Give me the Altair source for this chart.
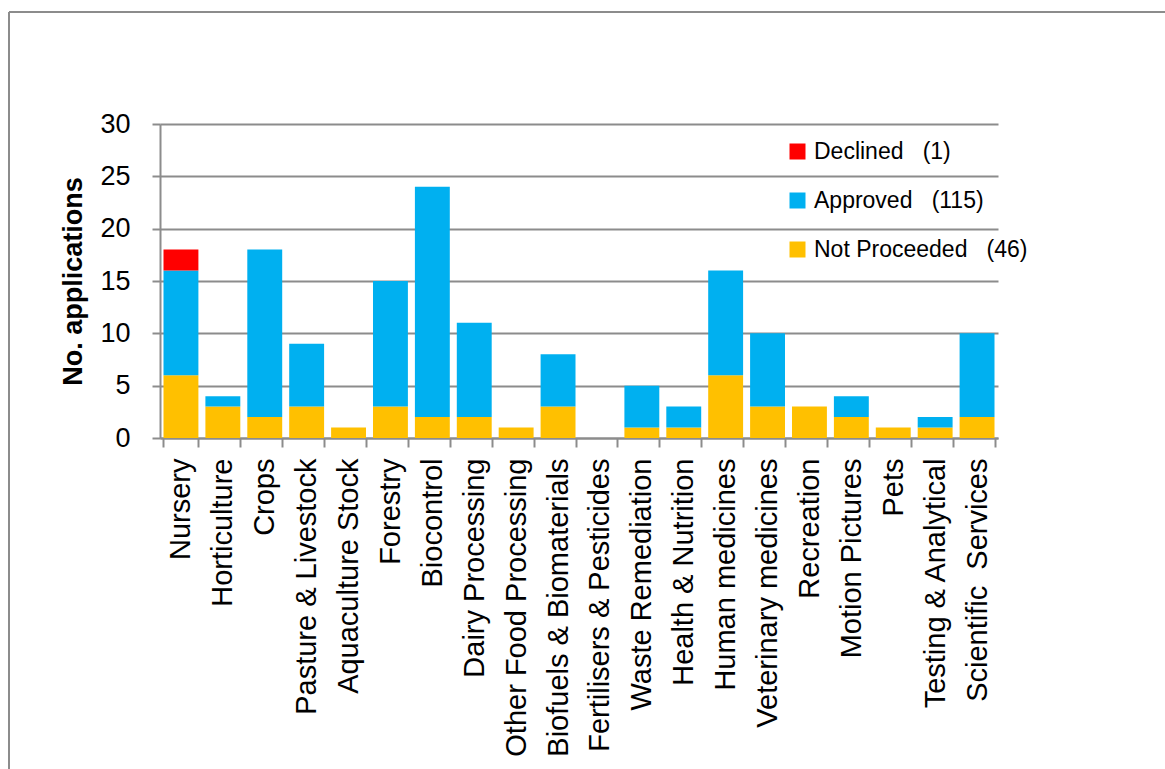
import altair as alt
import pandas as pd

# Application counts per sector, stacked by outcome
categories = [
    "Nursery", "Horticulture", "Crops", "Pasture & Livestock", "Aquaculture Stock",
    "Forestry", "Biocontrol", "Dairy Processing", "Other Food Processing",
    "Biofuels & Biomaterials", "Fertilisers & Pesticides", "Waste Remediation",
    "Health & Nutrition", "Human medicines", "Veterinary medicines", "Recreation",
    "Motion Pictures", "Pets", "Testing & Analytical", "Scientific\u00a0 Services",
]
not_proceeded = [6, 3, 2, 3, 1, 3, 2, 2, 1, 3, 0, 1, 1, 6, 3, 3, 2, 1, 1, 2]
approved = [10, 1, 16, 6, 0, 12, 22, 9, 0, 5, 0, 4, 2, 10, 7, 0, 2, 0, 1, 8]
declined = [2, 0, 0, 0, 0, 0, 0, 0, 0, 0, 0, 0, 0, 0, 0, 0, 0, 0, 0, 0]

statuses = ["Declined", "Approved", "Not Proceeded"]
status_totals = ["(1)", "(115)", "(46)"]
status_colors = ["#FF0000", "#00B0F0", "#FFC000"]
y_ticks = [0, 5, 10, 15, 20, 25, 30]

rows = []
series = [("Not Proceeded", not_proceeded, 0), ("Approved", approved, 1), ("Declined", declined, 2)]
for i, cat in enumerate(categories):
    for status, values, rank in series:
        rows.append({"category": cat, "status": status, "count": values[i], "rank": rank})
df = pd.DataFrame(rows)

FONT = "Liberation Sans"
GRAY = "#8c8c8c"
NBSP3 = "\u00a0\u00a0\u00a0"

# legend label = status name followed by its total
label_expr = ""
for s, t in zip(statuses, status_totals):
    label_expr += f"datum.label == '{s}' ? '{s}{NBSP3}{t}' : "
label_expr += "datum.label"

W, H = 838, 314
LEFT, TOP = 160, 124
TOTAL_W, TOTAL_H = 1165, 769

bars = alt.Chart(df).mark_bar().encode(
    x=alt.X(
        "category:N",
        sort=categories,
        scale=alt.Scale(paddingInner=0.167, paddingOuter=0.0835),
        axis=alt.Axis(
            title=None, labelAngle=-90, labelFont=FONT, labelFontSize=29,
            labelColor="black", labelLimit=400, labelOverlap=False, labelPadding=11,
            tickBand="extent", tickSize=9, tickColor=GRAY, tickWidth=2,
            domainColor=GRAY, domainWidth=2, grid=False,
        ),
    ),
    y=alt.Y(
        "count:Q",
        stack="zero",
        scale=alt.Scale(domain=[0, 30]),
        axis=alt.Axis(
            values=y_ticks, title="No. applications", titleFont=FONT,
            titleFontSize=27, titleFontWeight="bold", titleColor="black", titlePadding=12,
            labelFont=FONT, labelFontSize=27, labelColor="black", labelPadding=22,
            tickSize=8, tickColor=GRAY, tickWidth=2, domainColor=GRAY, domainWidth=2,
            grid=True, gridColor=GRAY, gridWidth=2,
        ),
    ),
    color=alt.Color(
        "status:N",
        scale=alt.Scale(domain=statuses, range=status_colors),
        legend=alt.Legend(
            title=None, orient="none", legendX=626, legendY=16, padding=0,
            symbolType="square", symbolSize=256, symbolStrokeWidth=0,
            labelFont=FONT, labelFontSize=23, labelColor="black", labelLimit=400,
            labelOffset=5, rowPadding=25, labelExpr=label_expr,
        ),
    ),
    order=alt.Order("rank:Q", sort="ascending"),
)

# frame lines along the top and left edges of the figure
frame_df = pd.DataFrame({"k": [0]})
top_line = alt.Chart(frame_df).mark_rule(color=GRAY, strokeWidth=2).encode(
    x=alt.value(9 - LEFT), x2=alt.value(TOTAL_W - LEFT), y=alt.value(12 - TOP)
)
left_line = alt.Chart(frame_df).mark_rule(color=GRAY, strokeWidth=2).encode(
    x=alt.value(9 - LEFT), y=alt.value(12 - TOP), y2=alt.value(TOTAL_H - TOP)
)

chart = alt.layer(bars, top_line, left_line).properties(
    width=W, height=H,
    autosize=alt.AutoSizeParams(type="none"),
    padding={"left": LEFT, "top": TOP, "right": TOTAL_W - LEFT - W, "bottom": TOTAL_H - TOP - H},
    background="white",
).configure_view(stroke=None)

chart.save("out.html", embed_options={"renderer": "svg", "actions": False})
